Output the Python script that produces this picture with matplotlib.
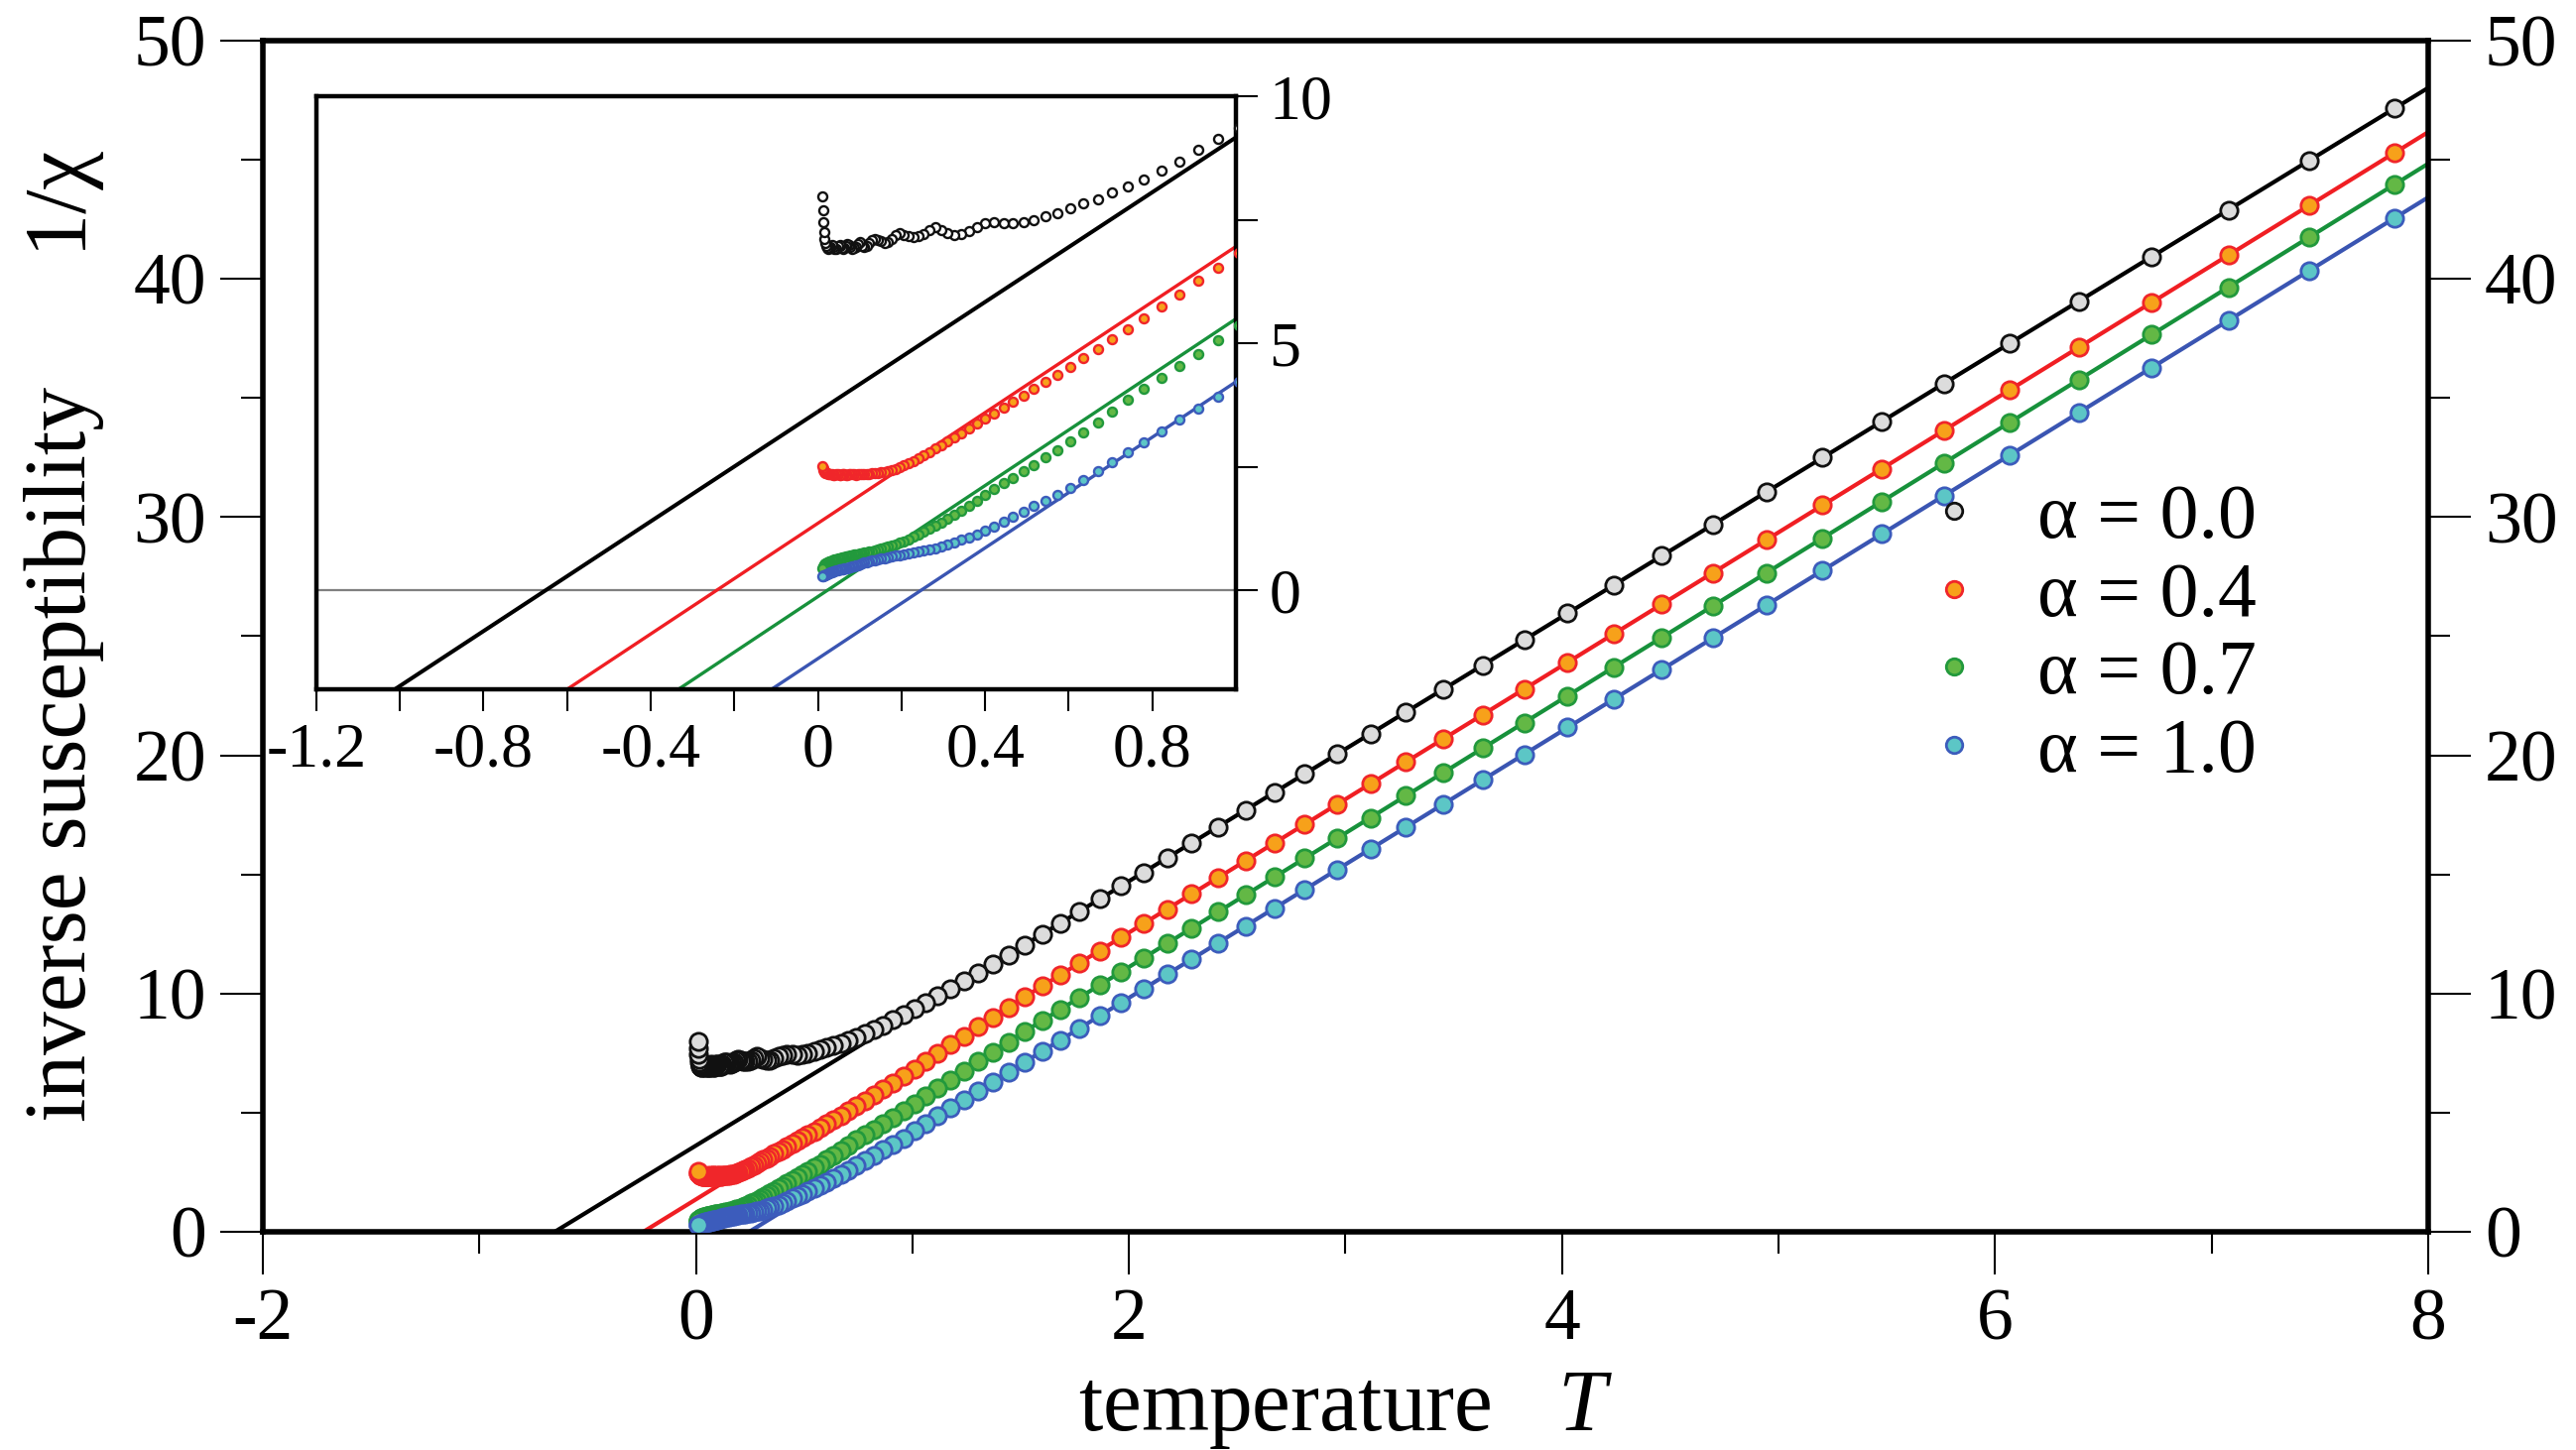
import numpy as np
import matplotlib
matplotlib.use("Agg")
import matplotlib.pyplot as plt
from matplotlib.ticker import MultipleLocator, FixedLocator, FixedFormatter

plt.rcParams['font.family'] = ['Liberation Serif', 'DejaVu Serif']
plt.rcParams['mathtext.fontset'] = 'custom'
plt.rcParams['mathtext.rm'] = 'Liberation Serif'
plt.rcParams['mathtext.it'] = 'Liberation Serif:italic'
plt.rcParams['axes.unicode_minus'] = False

# ---------------------------------------------------------------- data
alphas = [0.0, 0.4, 0.7, 1.0]

temperature = [
    7.843, 7.451, 7.078, 6.724, 6.388, 6.069, 5.765, 5.477, 5.203, 4.943,
    4.696, 4.461, 4.238, 4.026, 3.825, 3.634, 3.452, 3.279, 3.115, 2.960,
    2.812, 2.671, 2.538, 2.411, 2.290, 2.176, 2.067, 1.963, 1.865, 1.772,
    1.683, 1.599, 1.519, 1.443, 1.371, 1.303, 1.237, 1.176, 1.117, 1.061,
    1.008, 0.958, 0.910, 0.864, 0.821, 0.780, 0.741, 0.704, 0.669, 0.635,
    0.604, 0.573, 0.545, 0.517, 0.492, 0.467, 0.444, 0.421, 0.400, 0.380,
    0.361, 0.343, 0.326, 0.310, 0.294, 0.280, 0.266, 0.252, 0.240, 0.228,
    0.216, 0.206, 0.195, 0.186, 0.176, 0.168, 0.159, 0.151, 0.144, 0.136,
    0.130, 0.123, 0.117, 0.111, 0.106, 0.100, 0.095, 0.090, 0.086, 0.082,
    0.078, 0.074, 0.070, 0.067, 0.063, 0.060, 0.057, 0.054, 0.052, 0.049,
    0.044, 0.040, 0.036, 0.033, 0.029, 0.027, 0.024, 0.022, 0.020, 0.018,
    0.016, 0.0145, 0.0131, 0.0118, 0.0107,
]

inv_chi_a00 = [
    47.15, 44.97, 42.90, 40.94, 39.07, 37.30, 35.61, 34.02, 32.50, 31.05,
    29.68, 28.38, 27.14, 25.96, 24.85, 23.79, 22.78, 21.82, 20.91, 20.05,
    19.23, 18.44, 17.70, 17.00, 16.33, 15.70, 15.09, 14.51, 13.97, 13.45,
    12.96, 12.49, 12.05, 11.63, 11.25, 10.88, 10.53, 10.22, 9.91, 9.63,
    9.36, 9.13, 8.91, 8.68, 8.50, 8.31, 8.17, 8.05, 7.92, 7.83,
    7.73, 7.64, 7.57, 7.50, 7.45, 7.43, 7.44, 7.45, 7.43, 7.36,
    7.28, 7.22, 7.20, 7.24, 7.30, 7.36, 7.30, 7.22, 7.17, 7.15,
    7.17, 7.20, 7.24, 7.20, 7.12, 7.06, 7.04, 7.07, 7.10, 7.12,
    7.10, 7.03, 6.97, 6.95, 6.97, 7.05, 7.02, 6.96, 6.93, 6.92,
    6.95, 7.00, 7.02, 6.98, 6.93, 6.91, 6.93, 6.98, 7.00, 6.97,
    6.92, 6.92, 6.96, 6.99, 6.96, 6.93, 6.92, 6.94, 6.97, 7.03,
    7.12, 7.25, 7.45, 7.70, 7.98,
]

inv_chi_a04 = [
    45.28, 43.09, 41.00, 39.02, 37.13, 35.35, 33.64, 32.03, 30.50, 29.04,
    27.66, 26.34, 25.09, 23.91, 22.78, 21.71, 20.69, 19.72, 18.80, 17.94,
    17.11, 16.32, 15.57, 14.86, 14.18, 13.55, 12.94, 12.35, 11.80, 11.28,
    10.79, 10.32, 9.87, 9.42, 9.00, 8.60, 8.21, 7.85, 7.50, 7.16,
    6.84, 6.53, 6.26, 5.99, 5.74, 5.51, 5.29, 5.08, 4.89, 4.70,
    4.53, 4.37, 4.22, 4.08, 3.95, 3.82, 3.70, 3.58, 3.47, 3.37,
    3.27, 3.18, 3.10, 3.02, 2.94, 2.87, 2.80, 2.73, 2.67, 2.62,
    2.57, 2.53, 2.49, 2.46, 2.43, 2.41, 2.40, 2.39, 2.38, 2.37,
    2.37, 2.36, 2.35, 2.35, 2.36, 2.36, 2.35, 2.34, 2.35, 2.36,
    2.36, 2.35, 2.34, 2.34, 2.35, 2.36, 2.35, 2.34, 2.34, 2.35,
    2.35, 2.34, 2.34, 2.35, 2.35, 2.36, 2.36, 2.37, 2.37, 2.38,
    2.40, 2.42, 2.44, 2.47, 2.52,
]

inv_chi_a07 = [
    43.95, 41.75, 39.65, 37.67, 35.78, 33.98, 32.28, 30.66, 29.12, 27.66,
    26.27, 24.95, 23.69, 22.50, 21.37, 20.30, 19.28, 18.30, 17.38, 16.51,
    15.68, 14.89, 14.14, 13.43, 12.75, 12.11, 11.49, 10.91, 10.36, 9.84,
    9.33, 8.86, 8.41, 7.97, 7.54, 7.14, 6.75, 6.39, 6.03, 5.70,
    5.37, 5.06, 4.79, 4.54, 4.30, 4.08, 3.86, 3.62, 3.40, 3.20,
    3.02, 2.84, 2.69, 2.54, 2.41, 2.28, 2.17, 2.06, 1.93, 1.82,
    1.71, 1.62, 1.53, 1.45, 1.37, 1.31, 1.25, 1.19, 1.14, 1.10,
    1.04, 1.00, 0.97, 0.94, 0.92, 0.89, 0.87, 0.85, 0.83, 0.82,
    0.80, 0.79, 0.78, 0.77, 0.76, 0.75, 0.74, 0.73, 0.72, 0.71,
    0.70, 0.69, 0.69, 0.68, 0.67, 0.66, 0.66, 0.65, 0.65, 0.64,
    0.63, 0.62, 0.61, 0.60, 0.59, 0.58, 0.57, 0.56, 0.55, 0.54,
    0.52, 0.51, 0.49, 0.47, 0.45,
]

inv_chi_a10 = [
    42.54, 40.35, 38.26, 36.28, 34.40, 32.61, 30.91, 29.29, 27.76, 26.30,
    24.92, 23.60, 22.36, 21.17, 20.04, 18.97, 17.95, 16.98, 16.07, 15.20,
    14.37, 13.58, 12.84, 12.12, 11.45, 10.81, 10.20, 9.62, 9.07, 8.55,
    8.05, 7.58, 7.13, 6.70, 6.30, 5.92, 5.55, 5.21, 4.88, 4.53,
    4.23, 3.93, 3.68, 3.45, 3.22, 3.00, 2.80, 2.60, 2.42, 2.24,
    2.08, 1.94, 1.82, 1.71, 1.60, 1.50, 1.40, 1.30, 1.21, 1.14,
    1.08, 1.03, 0.98, 0.93, 0.89, 0.86, 0.84, 0.81, 0.79, 0.77,
    0.75, 0.73, 0.71, 0.70, 0.68, 0.67, 0.65, 0.64, 0.62, 0.61,
    0.60, 0.58, 0.57, 0.56, 0.54, 0.52, 0.51, 0.50, 0.49, 0.48,
    0.47, 0.46, 0.45, 0.44, 0.44, 0.43, 0.43, 0.42, 0.42, 0.41,
    0.40, 0.39, 0.38, 0.37, 0.36, 0.35, 0.34, 0.33, 0.32, 0.31,
    0.31, 0.30, 0.30, 0.29, 0.28,
]

# Curie-Weiss fits: 1/chi = slope * (T - theta)
fit_slope = [5.55, 5.60, 5.62, 5.60]
fit_theta = [-0.652, -0.243, 0.022, 0.246]

inset_xticks = [-1.2, -1.0, -0.8, -0.6, -0.4, -0.2, 0.0, 0.2, 0.4, 0.6, 0.8]
inset_xticklabels = ['-1.2', '', '-0.8', '', '-0.4', '', '0', '', '0.4', '', '0.8']
inset_yticks = [0, 2.5, 5, 7.5, 10]
inset_yticklabels = ['0', '', '5', '', '10']

# ---------------------------------------------------------------- style
line_colors = ['#000000', '#f01e23', '#17913b', '#3a55b2']
edge_colors = ['#111111', '#f0262a', '#22993c', '#3c5cbc']
face_main = ['#dcdcdc', '#f7a11a', '#63b845', '#5cc6c6']
face_inset = ['#ffffff', '#f7a11a', '#63b845', '#5cc6c6']

series = [inv_chi_a00, inv_chi_a04, inv_chi_a07, inv_chi_a10]
T = np.array(temperature)

fig = plt.figure(figsize=(25.97, 14.62), dpi=100)

# ---------------------------------------------------------------- main panel
ax = fig.add_axes([0.10204, 0.15048, 0.84057, 0.82148])
ax.set_xlim(-2, 8)
ax.set_ylim(0, 50)

for i, a in enumerate(alphas):
    th, s = fit_theta[i], fit_slope[i]
    tf = np.array([th, 8.0])
    ax.plot(tf, s * (tf - th), color=line_colors[i], lw=3.0,
            solid_capstyle='butt', zorder=2 + 0.1 * i)
    ax.plot(T, series[i], ls='none', marker='o', ms=12.5, mew=2.0,
            mfc=face_main[i], mec=edge_colors[i], zorder=3 + 0.1 * i,
            label=f'α = {a:.1f}')

ax.xaxis.set_major_locator(MultipleLocator(2))
ax.xaxis.set_minor_locator(MultipleLocator(1))
ax.yaxis.set_major_locator(MultipleLocator(10))
ax.yaxis.set_minor_locator(MultipleLocator(5))
ax.tick_params(which='both', direction='out', top=False, right=True,
               left=True, bottom=True, labelright=True, labelleft=True,
               width=1.5)
ax.tick_params(which='major', length=31, labelsize=53, pad=10)
ax.tick_params(which='minor', length=16)
for sp in ax.spines.values():
    sp.set_linewidth(4)

ax.set_xlabel('temperature   $T$', fontsize=63, labelpad=11)
ax.set_ylabel('inverse susceptibility      1/χ', fontsize=63, labelpad=21)

ax.legend(loc='upper left', bbox_to_anchor=(0.7705, 0.628), frameon=False,
          fontsize=56, handlelength=0.6, handletextpad=0.77,
          labelspacing=0.09, borderpad=0, borderaxespad=0, markerscale=0.95)

# ---------------------------------------------------------------- inset
axin = fig.add_axes([0.1228, 0.5246, 0.3570, 0.4090])
axin.set_xlim(-1.2, 1.0)
axin.set_ylim(-2, 10)
axin.axhline(0, color='#7f7f7f', lw=1.6, zorder=1)

for i in range(len(alphas)):
    th, s = fit_theta[i], fit_slope[i]
    tf = np.array([-1.2, 1.0])
    axin.plot(tf, s * (tf - th), color=line_colors[i],
              lw=2.9 if i == 0 else 2.4, zorder=2 + 0.1 * i)
    axin.plot(T, series[i], ls='none', marker='o', ms=6.5, mew=1.7,
              mfc=face_inset[i], mec=edge_colors[i], zorder=3 + 0.1 * i)

axin.xaxis.set_major_locator(FixedLocator(inset_xticks))
axin.xaxis.set_major_formatter(FixedFormatter(inset_xticklabels))
axin.yaxis.set_major_locator(FixedLocator(inset_yticks))
axin.yaxis.set_major_formatter(FixedFormatter(inset_yticklabels))
axin.tick_params(direction='out', left=False, labelleft=False, right=True,
                 labelright=True, top=False, bottom=True, length=16,
                 width=1.5, labelsize=46, pad=8)
for sp in axin.spines.values():
    sp.set_linewidth(3.2)

fig.savefig('out.png', dpi=100)
